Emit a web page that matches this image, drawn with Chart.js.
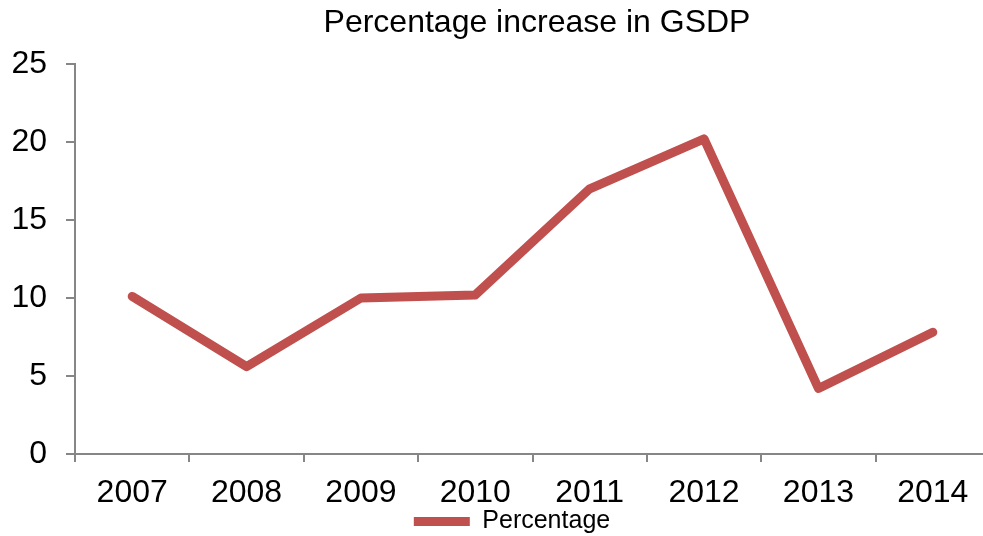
<!DOCTYPE html>
<html>
<head>
<meta charset="utf-8">
<script src="https://cdn.jsdelivr.net/npm/chart.js@4"></script>
<style>
  html, body { margin: 0; padding: 0; background: #fff; overflow: hidden; width: 983px; height: 536px; }
  #wrap { width: 1000px; height: 536px; }
</style>
</head>
<body>
<div id="wrap"><canvas id="c" width="1000" height="536"></canvas></div>
<script>
const categories = ['2007', '2008', '2009', '2010', '2011', '2012', '2013', '2014'];
const percentage = [10.1, 5.6, 10.0, 10.2, 17.0, 20.2, 4.2, 7.8];
const seriesName = 'Percentage';
const chartTitle = 'Percentage increase in GSDP';

const FONT = "'Liberation Sans', Arial, sans-serif";
const AXIS = '#868686';

const shiftPlugin = {
  id: 'shiftBoxes',
  afterLayout(chart) {
    const t = chart.titleBlock;
    if (t) { t.left += 42; t.right += 42; }
    const l = chart.legend;
    if (l) { l.left += 17; l.right += 17; l.top += 3; l.bottom += 3; }
  }
};

new Chart(document.getElementById('c'), {
  type: 'line',
  data: {
    labels: categories,
    datasets: [{
      label: seriesName,
      data: percentage,
      borderColor: '#C0504D',
      backgroundColor: '#C0504D',
      borderWidth: 9,
      borderCapStyle: 'round',
      borderJoinStyle: 'round',
      pointRadius: 0,
      pointHoverRadius: 0,
      tension: 0,
      fill: false
    }]
  },
  options: {
    responsive: false,
    animation: false,
    layout: { padding: { left: 0, right: 10, top: 0, bottom: -5 } },
    plugins: {
      title: {
        display: true,
        text: chartTitle,
        color: '#000',
        font: { family: FONT, size: 32, weight: 'normal', lineHeight: 1.2 },
        padding: { top: 4, bottom: 21.6 }
      },
      legend: {
        display: true,
        position: 'bottom',
        labels: {
          usePointStyle: true,
          pointStyle: 'line',
          pointStyleWidth: 56,
          color: '#000',
          padding: 0,
          font: { family: FONT, size: 25 }
        }
      },
      tooltip: { enabled: false }
    },
    scales: {
      x: {
        type: 'category',
        offset: true,
        grid: { display: true, offset: true, drawOnChartArea: false, drawTicks: true, tickLength: 8, color: AXIS, lineWidth: 2 },
        border: { display: true, color: AXIS, width: 2 },
        ticks: { color: '#000', font: { family: FONT, size: 32 }, padding: 12, maxRotation: 0, autoSkip: false },
        afterFit(scale) { scale.height = 52; }
      },
      y: {
        min: 0,
        max: 25,
        ticks: { stepSize: 5, color: '#000', font: { family: FONT, size: 32 }, padding: 19 },
        grid: { display: true, drawOnChartArea: false, drawTicks: true, tickLength: 9, color: AXIS, lineWidth: 2 },
        border: { display: true, color: AXIS, width: 2 },
        afterFit(scale) { scale.width = 75; }
      }
    }
  },
  plugins: [shiftPlugin]
});
</script>
</body>
</html>
